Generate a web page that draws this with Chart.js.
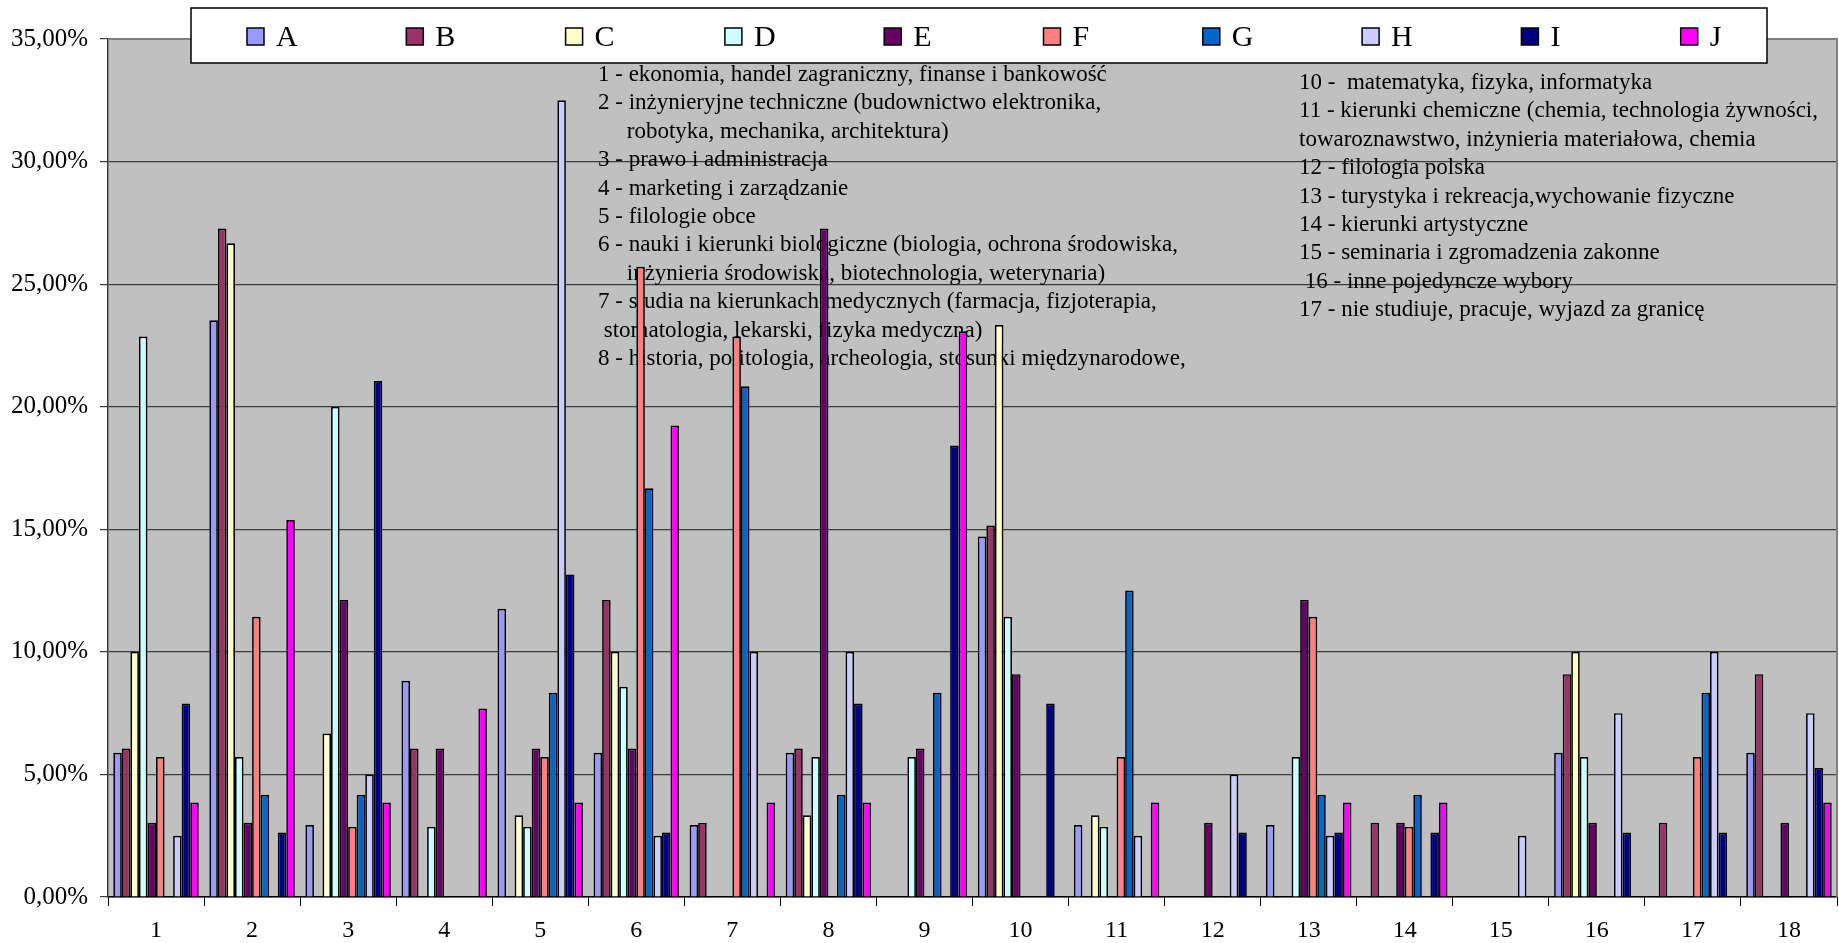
<!DOCTYPE html>
<html>
<head>
<meta charset="utf-8">
<script src="https://cdn.jsdelivr.net/npm/chart.js@4.4.0/dist/chart.umd.min.js"></script>
<style>
html, body { margin: 0; padding: 0; background: #fff; }
#wrap { width: 1839px; height: 943px; }
</style>
</head>
<body>
<div id="wrap"><canvas id="chart"></canvas></div>
<script>
// Kategorie (kierunki 1-18) i serie A-J
const categories = ['1', '2', '3', '4', '5', '6', '7', '8', '9', '10', '11', '12', '13', '14', '15', '16', '17', '18'];
const seriesNames = ['A', 'B', 'C', 'D', 'E', 'F', 'G', 'H', 'I', 'J'];
const seriesColors = ['#9999FF', '#993366', '#FFFFCC', '#CCFFFF', '#660066', '#FF8080', '#0066CC', '#CCCCFF', '#000080', '#FF00FF'];

// Wartości w procentach
const valuesA = [5.88, 23.53, 2.94, 8.82, 11.76, 5.88, 2.94, 5.88, 0, 14.71, 2.94, 0, 2.94, 0, 0, 5.88, 0, 5.88];
const valuesB = [6.06, 27.27, 0, 6.06, 0, 12.12, 3.03, 6.06, 0, 15.15, 0, 0, 0, 3.03, 0, 9.09, 3.03, 9.09];
const valuesC = [10.0, 26.67, 6.67, 0, 3.33, 10.0, 0, 3.33, 0, 23.33, 3.33, 0, 0, 0, 0, 10.0, 0, 0];
const valuesD = [22.86, 5.71, 20.0, 2.86, 2.86, 8.57, 0, 5.71, 5.71, 11.43, 2.86, 0, 5.71, 0, 0, 5.71, 0, 0];
const valuesE = [3.03, 3.03, 12.12, 6.06, 6.06, 6.06, 0, 27.27, 6.06, 9.09, 0, 3.03, 12.12, 3.03, 0, 3.03, 0, 3.03];
const valuesF = [5.71, 11.43, 2.86, 0, 5.71, 25.71, 22.86, 0, 0, 0, 5.71, 0, 11.43, 2.86, 0, 0, 5.71, 0];
const valuesG = [0, 4.17, 4.17, 0, 8.33, 16.67, 20.83, 4.17, 8.33, 0, 12.5, 0, 4.17, 4.17, 0, 0, 8.33, 0];
const valuesH = [2.5, 0, 5.0, 0, 32.5, 2.5, 10.0, 10.0, 0, 0, 2.5, 5.0, 2.5, 0, 2.5, 7.5, 10.0, 7.5];
const valuesI = [7.89, 2.63, 21.05, 0, 13.16, 2.63, 0, 7.89, 18.42, 7.89, 0, 2.63, 2.63, 2.63, 0, 2.63, 2.63, 5.26];
const valuesJ = [3.85, 15.38, 3.85, 7.69, 3.85, 19.23, 3.85, 3.85, 23.08, 0, 3.85, 0, 3.85, 3.85, 0, 0, 0, 3.85];
const allValues = [valuesA, valuesB, valuesC, valuesD, valuesE, valuesF, valuesG, valuesH, valuesI, valuesJ];

// Oś Y
const yMin = 0;
const yMax = 35;
const yStep = 5;

// Opisy kategorii
const notesLeft = [
    '1 - ekonomia, handel zagraniczny, finanse i bankowość',
    '2 - inżynieryjne techniczne (budownictwo elektronika,',
    '     robotyka, mechanika, architektura)',
    '3 - prawo i administracja',
    '4 - marketing i zarządzanie',
    '5 - filologie obce',
    '6 - nauki i kierunki biologiczne (biologia, ochrona środowiska,',
    '     inżynieria środowiska, biotechnologia, weterynaria)',
    '7 - studia na kierunkach medycznych (farmacja, fizjoterapia,',
    ' stomatologia, lekarski, fizyka medyczna)',
    '8 - historia, politologia, archeologia, stosunki międzynarodowe,'
];
const notesRight = [
    '10 -  matematyka, fizyka, informatyka',
    '11 - kierunki chemiczne (chemia, technologia żywności,',
    'towaroznawstwo, inżynieria materiałowa, chemia',
    '12 - filologia polska',
    '13 - turystyka i rekreacja,wychowanie fizyczne',
    '14 - kierunki artystyczne',
    '15 - seminaria i zgromadzenia zakonne',
    ' 16 - inne pojedyncze wybory',
    '17 - nie studiuje, pracuje, wyjazd za granicę'
];

const FONT = "'Liberation Serif', 'Times New Roman', serif";

// Tło obszaru wykresu
const backgroundPlugin = {
    id: 'plotBackground',
    beforeDraw(chart) {
        const { ctx, chartArea: a } = chart;
        ctx.save();
        ctx.fillStyle = '#FFFFFF';
        ctx.fillRect(0, 0, chart.width, chart.height);
        ctx.fillStyle = '#C0C0C0';
        ctx.fillRect(a.left, a.top, a.right - a.left, a.bottom - a.top);
        ctx.restore();
    }
};

// Teksty opisów pod słupkami
const notesPlugin = {
    id: 'notes',
    beforeDatasetsDraw(chart) {
        const ctx = chart.ctx;
        ctx.save();
        ctx.fillStyle = '#000';
        ctx.font = '23px ' + FONT;
        ctx.textBaseline = 'middle';
        ctx.textAlign = 'left';
        notesLeft.forEach((t, i) => ctx.fillText(t, 598, 75 + i * 28.4));
        notesRight.forEach((t, i) => ctx.fillText(t, 1299, 83 + i * 28.4));
        ctx.restore();
    }
};

// Ramka i legenda w górnej części
const legendPlugin = {
    id: 'boxLegend',
    afterDatasetsDraw(chart) {
        const { ctx, chartArea: a } = chart;
        ctx.save();
        // obramowanie obszaru (góra i prawa strona)
        ctx.strokeStyle = '#808080';
        ctx.lineWidth = 2;
        ctx.beginPath();
        ctx.moveTo(a.left, a.top);
        ctx.lineTo(a.right, a.top);
        ctx.lineTo(a.right, a.bottom);
        ctx.stroke();

        ctx.fillStyle = '#FFFFFF';
        ctx.fillRect(191, 8, 1576, 55);
        ctx.strokeStyle = '#000';
        ctx.lineWidth = 1.5;
        ctx.strokeRect(191, 8, 1576, 55);

        ctx.font = '30px ' + FONT;
        ctx.textBaseline = 'middle';
        chart.data.datasets.forEach((ds, i) => {
            const x = 247 + i * 159.3;
            ctx.fillStyle = ds.backgroundColor;
            ctx.fillRect(x, 28, 17, 17);
            ctx.strokeStyle = '#000';
            ctx.lineWidth = 1.5;
            ctx.strokeRect(x, 28, 17, 17);
            ctx.fillStyle = '#000';
            ctx.fillText(ds.label, x + 29, 38);
        });
        ctx.restore();
    }
};

const datasets = seriesNames.map((name, i) => ({
    label: name,
    data: allValues[i],
    backgroundColor: seriesColors[i],
    borderColor: '#000',
    borderWidth: c => (c.raw > 0 ? 1.7 : 0),
    borderSkipped: 'start',
    barPercentage: 1.0,
    categoryPercentage: 0.89
}));

new Chart(document.getElementById('chart'), {
    type: 'bar',
    data: { labels: categories, datasets: datasets },
    options: {
        responsive: true,
        maintainAspectRatio: false,
        animation: false,
        devicePixelRatio: 1,
        layout: { padding: { top: 39, right: 2, left: 0, bottom: 0 } },
        plugins: {
            legend: { display: false },
            tooltip: { enabled: false }
        },
        scales: {
            x: {
                afterFit: s => { s.height = 46; },
                grid: {
                    display: true,
                    drawOnChartArea: false,
                    drawTicks: true,
                    tickLength: 9,
                    tickColor: '#000',
                    color: '#000',
                    offset: true
                },
                border: { display: true, color: '#000', width: 1.5 },
                ticks: {
                    color: '#000',
                    padding: 10,
                    maxRotation: 0,
                    font: { family: FONT, size: 24 }
                }
            },
            y: {
                min: yMin,
                max: yMax,
                afterFit: s => { s.width = 108; },
                grid: {
                    color: '#3C3C3C',
                    lineWidth: 1.2,
                    drawTicks: true,
                    tickLength: 8,
                    tickColor: '#3C3C3C'
                },
                border: { display: true, color: '#3C3C3C', width: 1.5 },
                ticks: {
                    stepSize: yStep,
                    color: '#000',
                    padding: 12,
                    font: { family: FONT, size: 25 },
                    callback: v => v.toFixed(2).replace('.', ',') + '%'
                }
            }
        }
    },
    plugins: [backgroundPlugin, notesPlugin, legendPlugin]
});
</script>
</body>
</html>
